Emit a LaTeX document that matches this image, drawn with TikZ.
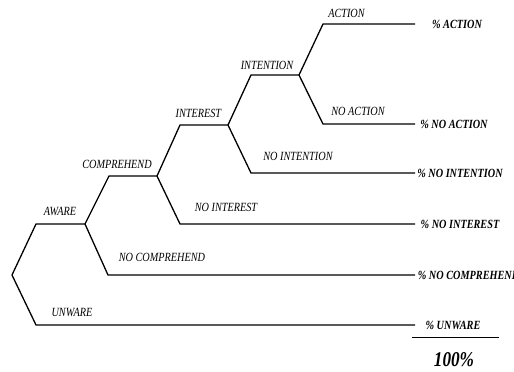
\documentclass[tikz,border=0pt]{standalone}
\usepackage{fontspec}
\newfontfamily\labfont{Liberation Serif}[FakeStretch=0.82]
\begin{document}
\begin{tikzpicture}[x=1pt,y=-1pt,
  branch/.style={line width=1.3pt,line join=miter},
  blab/.style={inner sep=0pt,font=\labfont\fontsize{12.5}{14}\selectfont\itshape},
  rlab/.style={inner sep=0pt,font=\labfont\fontsize{12.5}{14}\selectfont\bfseries\itshape},
  totlab/.style={inner sep=0pt,font=\labfont\fontsize{21}{24}\selectfont\bfseries\itshape}]
\clip (0,0) rectangle (514,372);
\useasboundingbox (0,0) rectangle (514,372);
% tree points
\coordinate (r) at (12,275);
\coordinate (aw1) at (36,224);
\coordinate (a) at (85,224);
\coordinate (nc1) at (108,275);
\coordinate (ncE) at (415,275);
\coordinate (uw1) at (36,325);
\coordinate (uwE) at (415,325);
\coordinate (c1) at (109,176);
\coordinate (c) at (157,176);
\coordinate (in1) at (180,125);
\coordinate (i) at (228,125);
\coordinate (ni1) at (180,224);
\coordinate (niE) at (415,224);
\coordinate (t1) at (251,75);
\coordinate (t) at (299,75);
\coordinate (nt1) at (251,173);
\coordinate (ntE) at (415,173);
\coordinate (ac1) at (323,24);
\coordinate (acE) at (415,24);
\coordinate (na1) at (323,124);
\coordinate (naE) at (415,124);
\coordinate (barL) at (412,337.7);
\coordinate (barR) at (499,337.7);
% branches
\draw[branch] (r) -- (aw1) -- (a);
\draw[branch] (r) -- (uw1) -- (uwE);
\draw[branch] (a) -- (nc1) -- (ncE);
\draw[branch] (a) -- (c1) -- (c);
\draw[branch] (c) -- (in1) -- (i);
\draw[branch] (c) -- (ni1) -- (niE);
\draw[branch] (i) -- (t1) -- (t);
\draw[branch] (i) -- (nt1) -- (ntE);
\draw[branch] (t) -- (ac1) -- (acE);
\draw[branch] (t) -- (na1) -- (naE);
\draw[line width=1.5pt] (barL) -- (barR);
% branch labels
\node[blab] (lac) at (346.5,13.3) {ACTION};
\node[blab] (lit) at (267,65) {INTENTION};
\node[blab] (lna) at (358,111) {NO ACTION};
\node[blab] (lnt) at (298,156.7) {NO INTENTION};
\node[blab] (lin) at (198.4,113.3) {INTEREST};
\node[blab] (lco) at (117,164) {COMPREHEND};
\node[blab] (lni) at (226,207.3) {NO INTEREST};
\node[blab] (law) at (60,211.7) {AWARE};
\node[blab] (lnc) at (162,257.3) {NO COMPREHEND};
\node[blab] (luw) at (72,312.7) {UNWARE};
% result labels
\node[rlab] (pac) at (457,24) {\% ACTION};
\node[rlab] (pna) at (454,124) {\% NO ACTION};
\node[rlab] (pnt) at (460,173) {\% NO INTENTION};
\node[rlab] (pni) at (460,224) {\% NO INTEREST};
\node[rlab,anchor=west] (pnc) at (417.7,275) {\% NO COMPREHEND};
\node[rlab] (puw) at (453,325) {\% UNWARE};
\node[totlab] (tot) at (454,360) {100\%};
\end{tikzpicture}
\end{document}
